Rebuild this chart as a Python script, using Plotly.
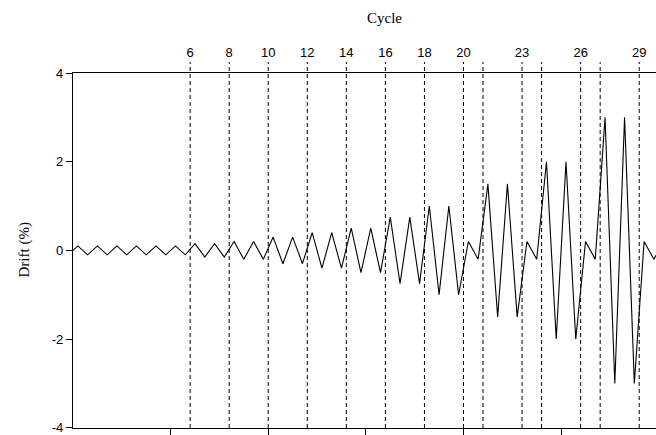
import plotly.graph_objects as go

# Peak drift amplitude (%) of each loading cycle, cycles 0..29
cycle_index = list(range(30))
cycle_amplitude = [0.1, 0.1, 0.1, 0.1, 0.1, 0.1,
                   0.15, 0.15, 0.2, 0.2, 0.3, 0.3, 0.4, 0.4, 0.5, 0.5,
                   0.75, 0.75, 1.0, 1.0, 0.2, 1.5, 1.5, 0.2, 2.0, 2.0, 0.2,
                   3.0, 3.0, 0.2]

top_tick_vals = [6, 8, 10, 12, 14, 16, 18, 20, 23, 26, 29]
top_tick_text = ["6", "8", "10", "12", "14", "16", "18", "20", "23", "26", "29"]
cycle_marker_lines = [6, 8, 10, 12, 14, 16, 18, 20, 21, 23, 24, 26, 27, 29]
bottom_tick_vals = [5, 10, 15, 20, 25]
y_tick_vals = [-4, -2, 0, 2, 4]
y_tick_text = ["-4", "-2", "0", "2", "4"]

# drift history: peak at quarter, trough at three quarters of every cycle
xs = [0.0]
ys = [0.0]
for n, a in zip(cycle_index, cycle_amplitude):
    xs += [n + 0.25, n + 0.75]
    ys += [a, -a]
xs.append(30.0)
ys.append(0.0)

fig = go.Figure()
fig.add_trace(go.Scatter(x=xs, y=ys, mode="lines",
                         line=dict(color="black", width=1.1),
                         showlegend=False, hoverinfo="skip"))
# invisible trace for top axis
fig.add_trace(go.Scatter(x=[0], y=[0], xaxis="x2", mode="markers",
                         marker=dict(opacity=0), showlegend=False, hoverinfo="skip"))

plot_h = 435 - 73 - 7
ext = 11.0 / plot_h
for c in cycle_marker_lines:
    fig.add_shape(type="line", xref="x", yref="paper", x0=c, x1=c, y0=0, y1=1 + ext,
                  line=dict(color="black", width=1, dash="4px,3px"), layer="above")

xr = [0, 29.86]
fig.update_layout(
    width=656, height=435,
    margin=dict(l=73, r=0, t=73, b=7),
    paper_bgcolor="white", plot_bgcolor="white",
    font=dict(family="Liberation Sans, Arial", size=13, color="black"),
    xaxis=dict(range=xr, showgrid=False, zeroline=False, showline=True,
               linecolor="black", linewidth=1.2, ticks="outside", ticklen=6,
               tickcolor="black", tickvals=bottom_tick_vals, showticklabels=False),
    xaxis2=dict(range=xr, overlaying="x", side="top", showgrid=False, zeroline=False,
                showline=True, linecolor="black", linewidth=1.2,
                ticks="outside", ticklen=10, tickcolor="rgba(0,0,0,0)",
                tickvals=top_tick_vals, ticktext=top_tick_text,
                tickfont=dict(family="Liberation Sans, Arial", size=13, color="black")),
    yaxis=dict(range=[-4.005, 4.0], showgrid=False, zeroline=False, showline=True,
               linecolor="black", linewidth=1.2, ticks="outside", ticklen=6,
               tickcolor="black", tickvals=y_tick_vals, ticktext=y_tick_text,
               ticklabeloverflow="allow",
               tickfont=dict(family="Liberation Sans, Arial", size=13, color="black")),
    annotations=[
        dict(text="Cycle", xref="paper", yref="paper",
             x=(384 - 73) / (656 - 73), y=1 + (73 - 18) / plot_h,
             xanchor="center", yanchor="middle", showarrow=False,
             font=dict(family="Liberation Serif, Times New Roman", size=15, color="black")),
        dict(text="Drift (%)", xref="paper", yref="paper",
             x=(24 - 73) / (656 - 73), y=0.5, textangle=-90,
             xanchor="center", yanchor="middle", showarrow=False,
             font=dict(family="Liberation Serif, Times New Roman", size=15, color="black")),
    ],
)

fig.write_html("out.html", config={"displayModeBar": False},
               post_script="document.body.style.margin='0px';document.body.style.overflow='hidden';")
